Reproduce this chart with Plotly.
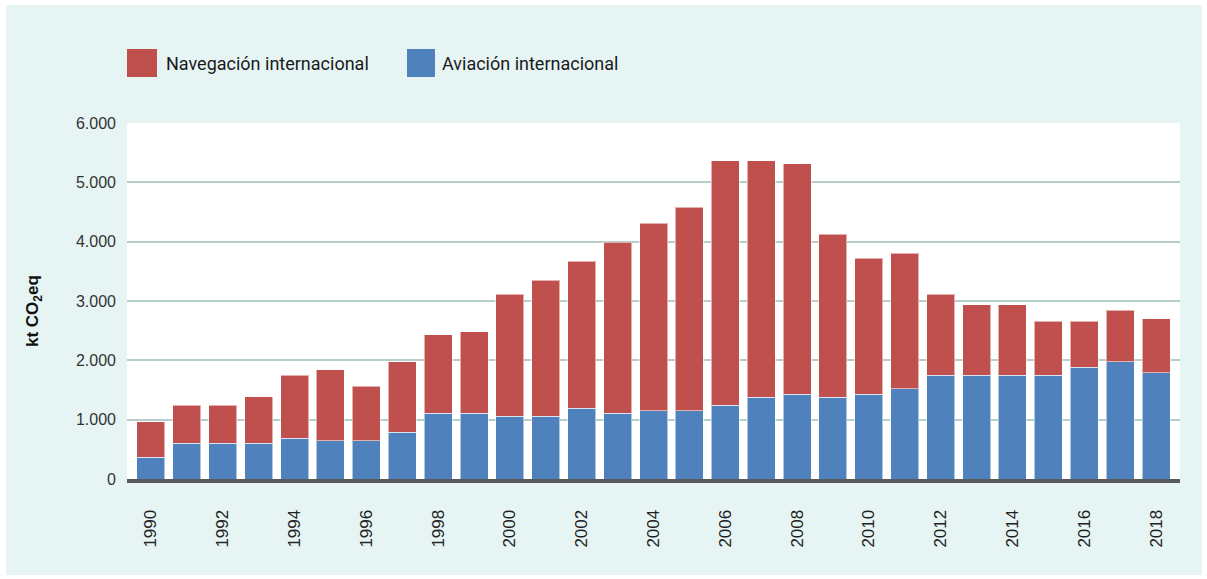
import plotly.graph_objects as go

years = list(range(1990, 2019))
total = [965, 1245, 1245, 1385, 1750, 1840, 1565, 1974, 2428, 2479, 3118, 3348, 3668, 3988,
         4307, 4582, 5362, 5362, 5317, 4128, 3718, 3802, 3118, 2933, 2933, 2658, 2658, 2843, 2703]
aviacion = [370, 606, 606, 606, 690, 645, 645, 785, 1110, 1110, 1060, 1060, 1195, 1110,
            1150, 1150, 1245, 1380, 1430, 1380, 1430, 1520, 1750, 1750, 1750, 1750, 1884, 1974, 1789]
navegacion = [t - a for t, a in zip(total, aviacion)]

series_names = ["Navegación internacional", "Aviación internacional"]
colors = {"Navegación internacional": "#c0504d", "Aviación internacional": "#4f81bd"}
y_title = "<b>kt CO<sub>2</sub>eq</b>"

W, H = 1207, 579
L, R, T, B = 127, 1180, 123, 479


def px2x(px):
    return (px - L) / (R - L)


def px2y(py):
    return (B - py) / (B - T)


fig = go.Figure()
line_style = dict(color="rgba(255,255,255,0.55)", width=1)
fig.add_trace(go.Bar(x=years, y=aviacion, name=series_names[1],
                     marker=dict(color=colors[series_names[1]], line=line_style)))
fig.add_trace(go.Bar(x=years, y=navegacion, name=series_names[0],
                     marker=dict(color=colors[series_names[0]], line=line_style)))

teal = "#e6f5f4"
shapes = []
# white outer frame
for (x0, y0, x1, y1) in [(0, 0, W, 5), (0, 575, W, H), (0, 0, 6, H), (1202, 0, W, H)]:
    shapes.append(dict(type="rect", xref="paper", yref="paper",
                       x0=px2x(x0), x1=px2x(x1), y0=px2y(y1), y1=px2y(y0),
                       fillcolor="white", line=dict(width=0), layer="above"))

annotations = []
# custom legend
legend_items = [(series_names[0], 127, 157, 164), (series_names[1], 407, 435, 440)]
for name, x0, x1, tx in legend_items:
    shapes.append(dict(type="rect", xref="paper", yref="paper",
                       x0=px2x(x0), x1=px2x(x1), y0=px2y(77), y1=px2y(49),
                       fillcolor=colors[name], line=dict(width=0)))
    annotations.append(dict(text=name, xref="paper", yref="paper", x=px2x(tx), y=px2y(63),
                            xanchor="left", yanchor="middle", showarrow=False,
                            font=dict(family="Roboto", size=18, color="#1a1a1a")))

annotations.append(dict(text=y_title, xref="paper", yref="paper", x=px2x(34), y=px2y(311),
                        xanchor="center", yanchor="middle", textangle=-90, showarrow=False,
                        font=dict(family="Liberation Sans", size=17, color="#111111")))

fig.update_layout(
    width=W, height=H,
    margin=dict(l=L, r=W - R, t=T, b=H - B),
    paper_bgcolor=teal, plot_bgcolor="white",
    barmode="stack", bargap=0.22,
    showlegend=False,
    separators=",.",
    shapes=shapes, annotations=annotations,
    xaxis=dict(range=[1989.333, 2018.667], tickmode="linear", tick0=1990, dtick=2,
               tickangle=-90, showgrid=False, zeroline=False,
               showline=True, linecolor="#5a5a5a", linewidth=4,
               ticks="", ticklabelstandoff=20,
               tickfont=dict(family="Liberation Sans", size=17, color="#222222")),
    yaxis=dict(range=[0, 6000], tickmode="linear", tick0=0, dtick=1000, tickformat=",.0f",
               showgrid=True, gridcolor="#b6cfca", gridwidth=1.5, zeroline=False,
               ticks="", ticklabelstandoff=10,
               tickfont=dict(family="Liberation Sans", size=16, color="#333333")),
)

fig.write_html("out.html")
